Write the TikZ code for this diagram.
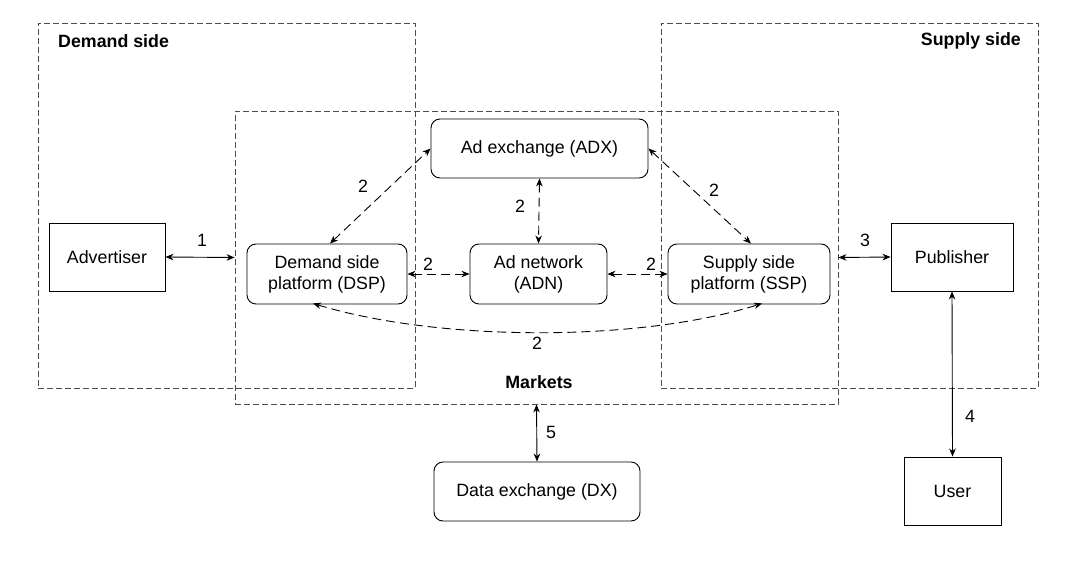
\documentclass[tikz,border=0pt]{standalone}
\usepackage{fontspec}
\setmainfont{Liberation Sans}
\usetikzlibrary{arrows.meta}
\begin{document}
\begin{tikzpicture}[x=1pt,y=-1pt,
  every node/.style={font=\fontsize{17.8}{21}\selectfont},
  region/.style={draw=black!70,dash pattern=on 6pt off 3pt,line width=0.8pt,inner sep=0pt},
  plain/.style={draw,line width=0.9pt,inner sep=0pt,align=center},
  rbox/.style={plain,rounded corners=9pt},
  link/.style={line width=0.9pt,{Stealth[length=8pt,width=6.5pt,inset=2.5pt]}-{Stealth[length=8pt,width=6.5pt,inset=2.5pt]}},
  dlink/.style={link,dash pattern=on 9pt off 5pt},
  lbl/.style={inner sep=0pt},
  head/.style={inner sep=0pt,font=\fontsize{17.8}{21}\selectfont\bfseries}]
\useasboundingbox (0,0) rectangle (1066,561);
\fill[white] (0,0) rectangle (1066,561);
% regions
\node[region,minimum width=377pt,minimum height=365pt] (dem) at (226.5,205.5) {};
\node[region,minimum width=377pt,minimum height=365pt] (sup) at (849.5,205.5) {};
\node[region,minimum width=603pt,minimum height=293pt] (mk) at (536.5,257.5) {};
\node[head,anchor=west] (demt) at (58,41) {Demand side};
\node[head,anchor=east] (supt) at (1021,41) {Supply side};
\node[head] (mkt) at (539,382) {Markets};
% boxes
\node[plain,minimum width=116pt,minimum height=68pt] (adv) at (107,257) {Advertiser};
\node[rbox,minimum width=160pt,minimum height=60pt] (dsp) at (327,274) {Demand side\\platform (DSP)};
\node[rbox,minimum width=217pt,minimum height=59pt] (adx) at (539.5,148.5) {Ad exchange (ADX)};
\node[rbox,minimum width=137pt,minimum height=60pt] (adn) at (538.5,274) {Ad network\\(ADN)};
\node[rbox,minimum width=162pt,minimum height=60pt] (ssp) at (749,274) {Supply side\\platform (SSP)};
\node[plain,minimum width=122pt,minimum height=68pt] (pub) at (952,257) {Publisher};
\node[plain,minimum width=97pt,minimum height=68pt] (usr) at (952.5,491) {User};
\node[rbox,minimum width=206pt,minimum height=59pt] (dx) at (537,491.5) {Data exchange (DX)};
% solid links
\draw[link] (adv.east) -- (mk.west);
\draw[link] (mk.east) -- (pub.west);
\draw[link] (pub.south) -- (usr.north);
\draw[link] (mk.south) -- (dx.north);
% dashed links
\draw[dlink] ([xshift=3pt]dsp.north) -- (adx.west);
\draw[dlink] (adx.east) -- ([xshift=2pt]ssp.north);
\draw[dlink] (adx.south) -- (adn.north);
\draw[dlink] (dsp.east) -- (adn.west);
\draw[dlink] (adn.east) -- (ssp.west);
\draw[dlink] ([xshift=-14pt,yshift=1pt]dsp.south) .. controls (440,342) and (640,342) .. ([xshift=13pt,yshift=1pt]ssp.south);
% labels
\node[lbl] (l1) at (202,240) {1};
\node[lbl] (l3) at (865,240) {3};
\node[lbl] (l4) at (970,416) {4};
\node[lbl] (l5) at (551,432) {5};
\node[lbl] (l2a) at (363,186) {2};
\node[lbl] (l2b) at (714,190) {2};
\node[lbl] (l2c) at (520,206) {2};
\node[lbl] (l2d) at (428,264) {2};
\node[lbl] (l2e) at (651,264) {2};
\node[lbl] (l2f) at (537,343) {2};
\end{tikzpicture}
\end{document}
